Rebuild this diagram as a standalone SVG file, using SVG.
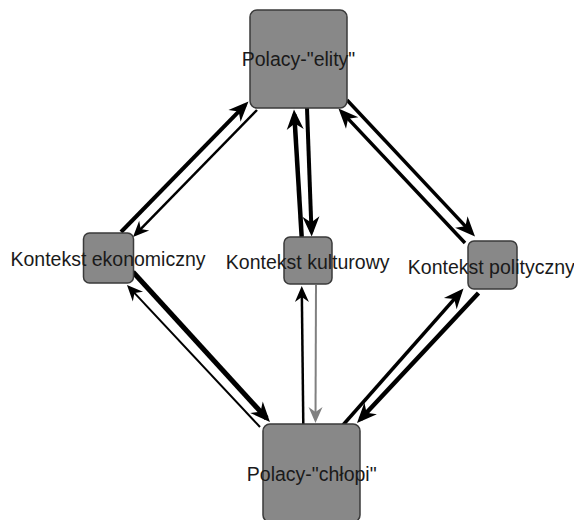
<svg xmlns="http://www.w3.org/2000/svg" width="574" height="520" viewBox="0 0 574 520">
  <style>
    .node rect { fill: #888888; stroke: #3a3a3a; stroke-width: 1.5; }
    .node text { font-family: "Liberation Sans", Arial, sans-serif; font-size: 19.5px; fill: #1a1a1a; text-anchor: middle; }
    .edge { fill: none; stroke: #000; stroke-linecap: butt; }
    .big { marker-end: url(#headBig); }
    .small { marker-end: url(#headSmall); }
    .grey { stroke: #808080; marker-end: url(#headGrey); }
  </style>
  <defs>
    <marker id="headBig" viewBox="-24 -12 28 24" markerWidth="28" markerHeight="24" refX="-5" refY="0" orient="auto" markerUnits="userSpaceOnUse">
      <path d="M0,0 L-20,-8.5 L-14,0 L-20,8.5 Z" fill="#000"/>
    </marker>
    <marker id="headSmall" viewBox="-24 -12 28 24" markerWidth="28" markerHeight="24" refX="-5" refY="0" orient="auto" markerUnits="userSpaceOnUse">
      <path d="M0,0 L-16,-7 L-11,0 L-16,7 Z" fill="#000"/>
    </marker>
    <marker id="headGrey" viewBox="-24 -12 28 24" markerWidth="28" markerHeight="24" refX="-5" refY="0" orient="auto" markerUnits="userSpaceOnUse">
      <path d="M0,0 L-16,-7 L-11,0 L-16,7 Z" fill="#808080"/>
    </marker>
  </defs>

  <g id="connectors">
    <!-- economic context <-> elites -->
    <line class="edge big" x1="121" y1="232" x2="245" y2="105.1" stroke-width="4"/>
    <line class="edge small" x1="257" y1="110" x2="136.5" y2="233.4" stroke-width="2.5"/>
    <!-- political context <-> elites -->
    <line class="edge big" x1="465" y1="243" x2="341.9" y2="112.1" stroke-width="3.5"/>
    <line class="edge big" x1="347" y1="100" x2="471.6" y2="232.9" stroke-width="3.5"/>
    <!-- cultural context <-> elites -->
    <line class="edge big" x1="301.7" y1="237" x2="294.3" y2="114.5" stroke-width="4.5"/>
    <line class="edge big" x1="307" y1="108" x2="311.5" y2="231.5" stroke-width="4"/>
    <!-- economic context <-> peasants -->
    <line class="edge big" x1="133" y1="272" x2="266.6" y2="418.3" stroke-width="5"/>
    <line class="edge small" x1="260" y1="427" x2="130.4" y2="288.6" stroke-width="2"/>
    <!-- political context <-> peasants -->
    <line class="edge big" x1="343" y1="425" x2="460.2" y2="292.3" stroke-width="3.5"/>
    <line class="edge big" x1="478.5" y1="293" x2="360.4" y2="419.3" stroke-width="4.5"/>
    <!-- cultural context <-> peasants -->
    <line class="edge small" x1="303.3" y1="425" x2="301.8" y2="291" stroke-width="2.5"/>
    <line class="edge grey" x1="316" y1="285" x2="315.5" y2="418" stroke-width="2"/>
  </g>

  <g id="elity" class="node">
    <rect x="250" y="10" width="97" height="98" rx="7"/>
    <text x="298.5" y="66">Polacy-"elity"</text>
  </g>
  <g id="ekonomiczny" class="node">
    <rect x="83.5" y="233" width="50" height="50" rx="6"/>
    <text x="108" y="266">Kontekst ekonomiczny</text>
  </g>
  <g id="kulturowy" class="node">
    <rect x="284" y="237" width="48" height="47" rx="6"/>
    <text x="307.7" y="268.5">Kontekst kulturowy</text>
  </g>
  <g id="polityczny" class="node">
    <rect x="468" y="241" width="49" height="48" rx="6"/>
    <text x="491.3" y="274">Kontekst polityczny</text>
  </g>
  <g id="chlopi" class="node">
    <rect x="263" y="424" width="97" height="98" rx="7"/>
    <text x="311.7" y="480.5">Polacy-"chłopi"</text>
  </g>
</svg>
